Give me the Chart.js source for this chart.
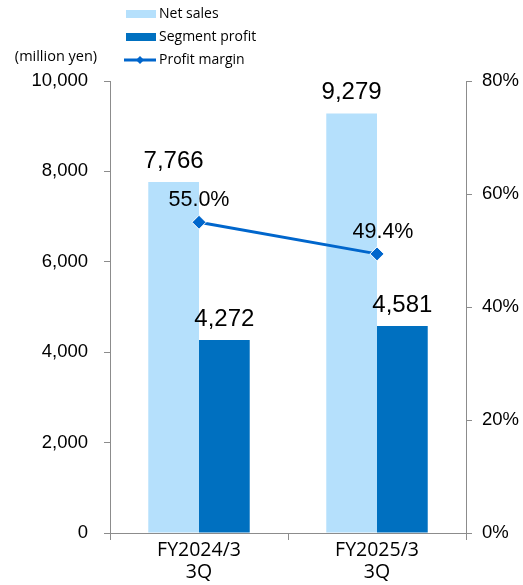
<!DOCTYPE html>
<html>
<head>
<meta charset="utf-8">
<script src="https://cdn.jsdelivr.net/npm/chart.js@4.4.1/dist/chart.umd.min.js"></script>
<style>
  body { margin: 0; background: #fff; }
  #wrap { width: 523px; height: 585px; }
</style>
</head>
<body>
<div id="wrap"><canvas id="segChart" width="523" height="585"></canvas></div>
<script>
var categories = [["FY2024/3", "3Q"], ["FY2025/3", "3Q"]];
var netSales = [7766, 9279];
var segmentProfit = [4272, 4581];
var profitMargin = [55.0, 49.4];
var seriesNames = ["Net sales", "Segment profit", "Profit margin"];
var unitLabel = "(million yen)";

var lightBlue = "#B5E0FC";
var darkBlue = "#0070C0";
var lineBlue = "#0066CC";
var axisGray = "#8c8c8c";

// labels above bars and points, plus legend and unit text
var extrasPlugin = {
  id: "extras",
  afterDatasetsDraw: function(chart) {
    var ctx = chart.ctx;
    ctx.save();
    ctx.fillStyle = "#000";
    ctx.textAlign = "center";
    ctx.textBaseline = "middle";
    [0, 1].forEach(function(di) {
      var meta = chart.getDatasetMeta(di);
      meta.data.forEach(function(bar, i) {
        var v = chart.data.datasets[di].data[i];
        ctx.font = "24px 'Liberation Sans', Arial, sans-serif";
        ctx.fillText(v.toLocaleString("en-US"), bar.x, bar.y - 21);
      });
    });
    var lm = chart.getDatasetMeta(2);
    lm.data.forEach(function(pt, i) {
      var v = chart.data.datasets[2].data[i];
      ctx.font = "21.5px 'Liberation Sans', Arial, sans-serif";
      ctx.fillText(v.toFixed(1) + "%", pt.x + (i == 1 ? 6 : 0), pt.y - 22);
    });

    // legend
    ctx.textAlign = "left";
    ctx.font = "14px 'Open Sans', sans-serif";
    ctx.fillStyle = lightBlue;
    ctx.fillRect(126, 10, 30, 8);
    ctx.fillStyle = darkBlue;
    ctx.fillRect(126, 33, 30, 8);
    ctx.strokeStyle = lineBlue;
    ctx.lineWidth = 3;
    ctx.beginPath();
    ctx.moveTo(124, 60);
    ctx.lineTo(156, 60);
    ctx.stroke();
    ctx.fillStyle = lineBlue;
    ctx.beginPath();
    ctx.moveTo(140, 56); ctx.lineTo(144, 60); ctx.lineTo(140, 64); ctx.lineTo(136, 60);
    ctx.closePath();
    ctx.fill();
    ctx.fillStyle = "#000";
    ctx.fillText(seriesNames[0], 159, 14);
    ctx.fillText(seriesNames[1], 159, 37);
    ctx.fillText(seriesNames[2], 159, 60);

    ctx.font = "14.5px 'Open Sans', sans-serif";
    ctx.textAlign = "center";
    ctx.fillText(unitLabel, 56, 57);
    ctx.restore();
  }
};

var chart = new Chart(document.getElementById("segChart"), {
  type: "bar",
  data: {
    labels: categories,
    datasets: [
      {
        label: seriesNames[0],
        data: netSales,
        backgroundColor: lightBlue,
        yAxisID: "y",
        order: 2,
        categoryPercentage: 0.57,
        barPercentage: 1.0
      },
      {
        label: seriesNames[1],
        data: segmentProfit,
        backgroundColor: darkBlue,
        yAxisID: "y",
        order: 2,
        categoryPercentage: 0.57,
        barPercentage: 1.0
      },
      {
        type: "line",
        label: seriesNames[2],
        data: profitMargin,
        borderColor: lineBlue,
        borderWidth: 3,
        pointStyle: "rectRot",
        pointRadius: 7,
        pointBackgroundColor: lineBlue,
        pointBorderColor: "#fff",
        pointBorderWidth: 1,
        yAxisID: "y1",
        order: 1
      }
    ]
  },
  options: {
    responsive: false,
    animation: false,
    layout: { padding: { top: 81, left: 0, right: 0, bottom: 0 } },
    plugins: {
      legend: { display: false },
      tooltip: { enabled: false }
    },
    scales: {
      x: {
        grid: {
          offset: true,
          drawOnChartArea: false,
          drawTicks: true,
          tickLength: 7,
          tickColor: axisGray
        },
        border: { color: axisGray, width: 1 },
        ticks: {
          color: "#000",
          padding: 0,
          font: { family: "'Open Sans', sans-serif", size: 19.5, lineHeight: 1.12 },
          maxRotation: 0
        },
        afterFit: function(s) { s.height = 52; }
      },
      y: {
        position: "left",
        min: 0,
        max: 10000,
        ticks: {
          stepSize: 2000,
          color: "#000",
          padding: 16,
          font: { family: "'Liberation Sans', Arial, sans-serif", size: 18.5 },
          callback: function(v) { return v.toLocaleString("en-US"); }
        },
        grid: { drawOnChartArea: false, tickLength: 6, tickColor: axisGray },
        border: { color: axisGray, width: 1 },
        afterFit: function(s) { s.width = 110; }
      },
      y1: {
        position: "right",
        min: 0,
        max: 80,
        ticks: {
          stepSize: 20,
          color: "#000",
          padding: 10,
          font: { family: "'Liberation Sans', Arial, sans-serif", size: 18.5 },
          callback: function(v) { return v + "%"; }
        },
        grid: { drawOnChartArea: false, tickLength: 6, tickColor: axisGray },
        border: { color: axisGray, width: 1 },
        afterFit: function(s) { s.width = 57; }
      }
    }
  },
  plugins: [extrasPlugin]
});
</script>
</body>
</html>
